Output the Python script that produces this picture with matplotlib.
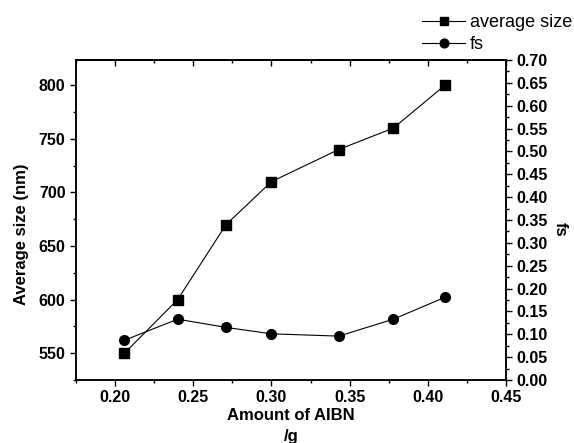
import matplotlib.pyplot as plt
from matplotlib.ticker import MultipleLocator, FormatStrFormatter

plt.rcParams['font.family'] = ['Liberation Sans', 'DejaVu Sans']

# data
aibn = [0.206, 0.240, 0.271, 0.300, 0.343, 0.378, 0.411]
avg_size = [550, 600, 670, 710, 740, 760, 800]
fs = [0.087, 0.133, 0.115, 0.101, 0.096, 0.133, 0.181]

W, H = 574, 443
fig = plt.figure(figsize=(W / 100, H / 100), dpi=100)
ax = fig.add_axes([76 / W, 1 - 380 / H, (506 - 76) / W, (380 - 60) / H])
ax2 = ax.twinx()

l1, = ax.plot(aibn, avg_size, color='black', lw=0.8, marker='s', ms=6.5,
              label='average size')
l2, = ax2.plot(aibn, fs, color='black', lw=0.8, marker='o', ms=7,
               label='fs')

ax.set_xlim(0.175, 0.45)
ax.set_ylim(525, 823.5)
ax2.set_ylim(0, 0.70)

ax.xaxis.set_major_locator(MultipleLocator(0.05))
ax.xaxis.set_minor_locator(MultipleLocator(0.025))
ax.yaxis.set_major_locator(MultipleLocator(50))
ax.yaxis.set_minor_locator(MultipleLocator(25))
ax2.yaxis.set_major_locator(MultipleLocator(0.05))
ax2.yaxis.set_minor_locator(MultipleLocator(0.025))
ax.xaxis.set_major_formatter(FormatStrFormatter('%.2f'))
ax2.yaxis.set_major_formatter(FormatStrFormatter('%.2f'))

ax.tick_params(axis='x', which='both', direction='out', top=False)
for a in (ax, ax2):
    a.tick_params(which='major', length=4.5, width=1, pad=3)
    a.tick_params(which='minor', length=2.5, width=1)

# inward ticks on the top spine
sec = ax.secondary_xaxis('top')
sec.xaxis.set_major_locator(MultipleLocator(0.05))
sec.xaxis.set_minor_locator(MultipleLocator(0.025))
sec.tick_params(which='both', direction='in', labeltop=False)
sec.tick_params(which='major', length=4.5, width=1)
sec.tick_params(which='minor', length=2.5, width=1)

for lab in ax.get_xticklabels() + ax.get_yticklabels() + ax2.get_yticklabels():
    lab.set_fontweight('bold')
    lab.set_fontsize(11.5)

for a in (ax, ax2, sec):
    for s in a.spines.values():
        s.set_linewidth(1.1)

ax.set_xlabel('Amount of AIBN\n/g', fontsize=12, fontweight='bold',
              linespacing=1.45, va='center', ha='center')
ax.xaxis.set_label_coords(0.5, (380 - 426) / 320)
ax.set_ylabel('Average size (nm)', fontsize=12, fontweight='bold',
              va='center', ha='center')
ax.yaxis.set_label_coords((22 - 76) / 430, 1 - (234 - 60) / 320)
ax2.set_ylabel('fs', fontsize=12, fontweight='bold', rotation=270,
               va='center', ha='center')
ax2.yaxis.set_label_coords((560 - 76) / 430, 1 - (229 - 60) / 320)

fig.legend(handles=[l1, l2], loc='upper right',
           bbox_to_anchor=(572 / W, 1 - 14 / H), frameon=False,
           fontsize=13, handlelength=2.4, handletextpad=0.25,
           labelspacing=0.3, borderpad=0, borderaxespad=0, markerscale=0.9)

fig.savefig('out.png', dpi=100)
